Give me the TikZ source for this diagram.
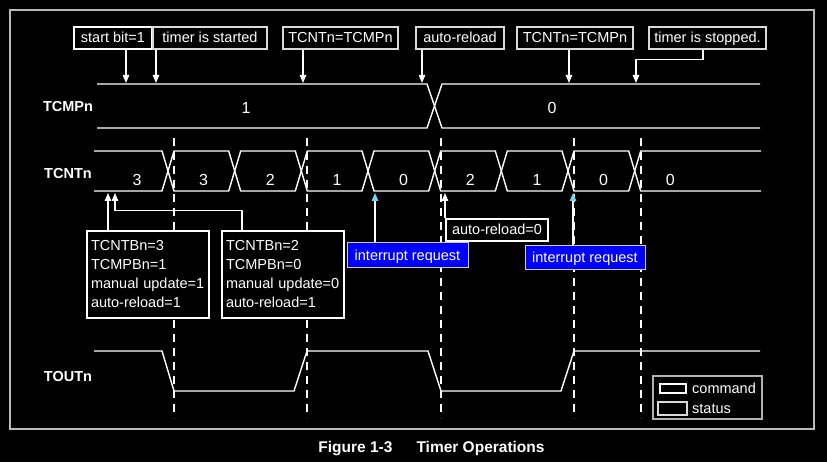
\documentclass[tikz,border=0pt]{standalone}
\usepackage{fontspec}
\setmainfont{Liberation Sans}
\usetikzlibrary{arrows.meta}
\begin{document}
\begin{tikzpicture}[x=1pt,y=-1pt,
  every node/.style={text=white, font=\fontsize{14.5}{18}\selectfont, inner sep=0pt},
  cmdbox/.style={draw=white, line width=2.6pt, fill=black, minimum height=22pt, text height=11pt, text depth=1pt},
  statbox/.style={draw=white!85!black, line width=1.2pt, fill=black, minimum height=22pt, text height=11pt, text depth=1pt},
  irqbox/.style={draw=white!80!black, line width=1pt, fill=blue, minimum height=24pt, minimum width=120pt, text height=11pt, text depth=1pt},
  cfgbox/.style={draw=white, line width=2.6pt, fill=black, text width=114pt, align=left, inner xsep=4pt, minimum height=87pt, font=\fontsize{14.5}{19}\selectfont},
  sig/.style={white, line width=1.4pt},
  gridline/.style={white, line width=1.2pt, dash pattern=on 8pt off 6pt},
  arr/.style={white, line width=1.3pt, -{Triangle[width=6.5pt,length=8pt]}},
  cyanarr/.style={white, line width=1.3pt, -{Triangle[width=6.5pt,length=8pt,color=cyan!55!white]}},
  rowlbl/.style={font=\bfseries\fontsize{14.5}{18}\selectfont},
  val/.style={font=\fontsize{16}{18}\selectfont},
]
% background and frame
\fill[black] (0,0) rectangle (827,462);
\draw[gray!55!white, line width=1.3pt] (10,10) rectangle (814,429);

% dashed time markers
\foreach \x in {174,307,441,574,641} \draw[gridline] (\x,138) -- (\x,418);

% row labels
\node[rowlbl] (lcmp) at (68,107) {TCMPn};
\node[rowlbl] (lcnt) at (68,174) {TCNTn};
\node[rowlbl] (lout) at (68,377) {TOUTn};

% TCMPn
\draw[sig] (97,84) -- (427,84) -- (442,128) -- (760,128);
\draw[sig] (97,128) -- (427,128) -- (442,84) -- (760,84);
\node[val] (cmp1) at (246,108) {1};
\node[val] (cmp0) at (552,108) {0};

% TCNTn
\draw[sig] (94,151) -- (162,151) -- (174,191) -- (228.7,191) -- (240.7,151) -- (295.3,151) -- (307.3,191) -- (362,191) -- (374,151) -- (428.7,151) -- (440.7,191) -- (495.3,191) -- (507.3,151) -- (562,151) -- (574,191) -- (628.7,191) -- (640.7,151) -- (761,151);
\draw[sig] (94,191) -- (162,191) -- (174,151) -- (228.7,151) -- (240.7,191) -- (295.3,191) -- (307.3,151) -- (362,151) -- (374,191) -- (428.7,191) -- (440.7,151) -- (495.3,151) -- (507.3,191) -- (562,191) -- (574,151) -- (628.7,151) -- (640.7,191) -- (761,191);
\foreach \v [count=\i] in {3,3,2,1,0,2,1,0,0}
  \node[val] (cnt\i) at ({174+66.67*(\i-1)-37},180) {\v};

% TOUTn
\draw[sig] (94,351) -- (162,351) -- (174,391) -- (294,391) -- (307,351) -- (428,351) -- (441,391) -- (561,391) -- (574,351) -- (760,351);

% top event boxes
\node[cmdbox, minimum width=78pt] (start) at (113,38) {start bit=1};
\node[statbox, minimum width=114pt] (started) at (210,38) {timer is started};
\node[statbox, minimum width=115pt] (eqa) at (340.5,38) {TCNTn=TCMPn};
\node[statbox, minimum width=88pt] (reload) at (460,38) {auto-reload};
\node[statbox, minimum width=116pt] (eqb) at (575,38) {TCNTn=TCMPn};
\node[statbox, minimum width=117pt] (stopped) at (707.5,38) {timer is stopped.};

\coordinate (p1) at (126,83);
\coordinate (p2) at (156,83);
\coordinate (p3) at (303,83);
\coordinate (p4) at (422,83);
\coordinate (p5) at (569,83);
\coordinate (p6) at (636,83);
\draw[arr] (start.south -| p1) -- (p1);
\draw[arr] (started.south -| p2) -- (p2);
\draw[arr] (eqa.south -| p3) -- (p3);
\draw[arr] (reload.south -| p4) -- (p4);
\draw[arr] (eqb.south -| p5) -- (p5);
\draw[arr] ([xshift=-4.5pt]stopped.south) -- ++(0,10) -| (p6);

% configuration boxes
\node[cfgbox] (cfga) at (148,274.5) {TCNTBn=3\\TCMPBn=1\\manual update=1\\auto-reload=1};
\node[cfgbox] (cfgb) at (283,274.5) {TCNTBn=2\\TCMPBn=0\\manual update=0\\auto-reload=1};
\coordinate (q1) at (108,193);
\coordinate (q2) at (115,193);
\draw[arr] (cfga.north -| q1) -- (q1);
\draw[arr] ([xshift=-41pt]cfgb.north) -- ++(0,-19) -| (q2);

% auto-reload=0
\node[cmdbox, minimum width=102pt] (rl0) at (497,230) {auto-reload=0};
\coordinate (r0) at (445,193);
\draw[arr] (rl0.north -| r0) -- (r0);

% interrupt requests
\node[irqbox, minimum width=121pt, minimum height=25pt] (irqa) at (407.5,255.5) {interrupt request};
\node[irqbox] (irqb) at (585,258) {interrupt request};
\coordinate (r1) at (375,193);
\coordinate (r2) at (573,193);
\draw[cyanarr] (irqa.north -| r1) -- (r1);
\draw[cyanarr] (irqb.north -| r2) -- (r2);

% legend
\node[draw=gray!60!white, line width=1.2pt, minimum width=109pt, minimum height=43pt] (legend) at (707.5,397.5) {};
\node[cmdbox, minimum width=26pt, minimum height=9pt, text height=0pt, text depth=0pt] (legcmd) at (673,388.5) {};
\node[statbox, minimum width=29pt, minimum height=13pt, text height=0pt, text depth=0pt] (legstat) at (672.5,408.5) {};
\node[anchor=west] (legcmdt) at (692,388) {command};
\node[anchor=west] (legstatt) at (692,409) {status};

% caption
\node[font=\bfseries\fontsize{15.5}{18}\selectfont] (cap) at (431.5,449) {Figure 1-3\hspace{24pt}Timer Operations};
\end{tikzpicture}
\end{document}
